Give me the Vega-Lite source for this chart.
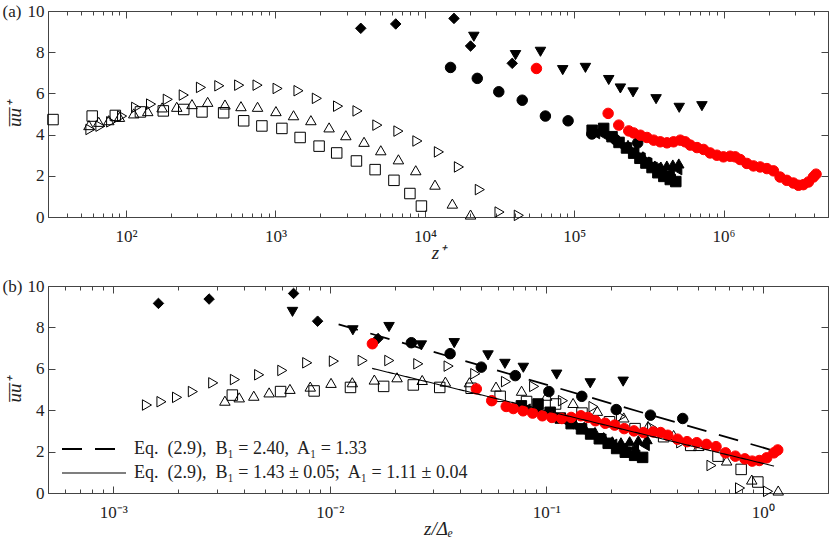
{
  "$schema": "https://vega.github.io/schema/vega-lite/v6.json",
  "autosize": {"type": "pad"},
  "padding": {"left": 2, "top": 2, "right": 0, "bottom": 0},
  "background": "white",
  "bounds": "flush",
  "spacing": 69,
  "datasets": {
    "pts": [
      {"s":"sq","za":32.4,"zb":0.00355,"u":4.73},
      {"s":"sq","za":59.3,"zb":0.00593,"u":4.90},
      {"s":"sq","za":84.7,"zb":0.00847,"u":4.93},
      {"s":"sq","za":124.7,"zb":0.01247,"u":5.10},
      {"s":"sq","za":177.4,"zb":0.01774,"u":5.15},
      {"s":"sq","za":243.2,"zb":0.02432,"u":5.22},
      {"s":"sq","za":322.1,"zb":0.03221,"u":5.10},
      {"s":"sq","za":449.8,"zb":0.04498,"u":5.06},
      {"s":"sq","za":612.4,"zb":0.06124,"u":4.67},
      {"s":"sq","za":811.0,"zb":0.0811,"u":4.42},
      {"s":"sq","za":1104,"zb":0.1104,"u":4.30},
      {"s":"sq","za":1462,"zb":0.1462,"u":3.86},
      {"s":"sq","za":1959,"zb":0.1959,"u":3.44},
      {"s":"sq","za":2570,"zb":0.257,"u":3.11},
      {"s":"sq","za":3483,"zb":0.3483,"u":2.72},
      {"s":"sq","za":4645,"zb":0.4645,"u":2.30},
      {"s":"sq","za":6209,"zb":0.6209,"u":1.78},
      {"s":"sq","za":7943,"zb":0.7943,"u":1.14},
      {"s":"sq","za":9484,"zb":0.9484,"u":0.53},
      {"s":"tu","za":56.4,"zb":0.00328,"u":4.46},
      {"s":"tu","za":65.6,"zb":0.00382,"u":4.62},
      {"s":"tu","za":76.6,"zb":0.00446,"u":4.70},
      {"s":"tu","za":90.2,"zb":0.00525,"u":4.86},
      {"s":"tu","za":112.5,"zb":0.00655,"u":5.03},
      {"s":"tu","za":139.6,"zb":0.00813,"u":5.14},
      {"s":"tu","za":174.2,"zb":0.01014,"u":5.32},
      {"s":"tu","za":218.3,"zb":0.01271,"u":5.35},
      {"s":"tu","za":276.1,"zb":0.01607,"u":5.48},
      {"s":"tu","za":351.6,"zb":0.02046,"u":5.59},
      {"s":"tu","za":459.2,"zb":0.02673,"u":5.46},
      {"s":"tu","za":587.5,"zb":0.0342,"u":5.38},
      {"s":"tu","za":758.6,"zb":0.04416,"u":5.35},
      {"s":"tu","za":1007,"zb":0.0586,"u":5.14},
      {"s":"tu","za":1321,"zb":0.0769,"u":4.94},
      {"s":"tu","za":1726,"zb":0.1005,"u":4.70},
      {"s":"tu","za":2286,"zb":0.1330,"u":4.35},
      {"s":"tu","za":2958,"zb":0.1722,"u":3.97},
      {"s":"tu","za":3917,"zb":0.2280,"u":3.65},
      {"s":"tu","za":5070,"zb":0.2951,"u":3.24},
      {"s":"tu","za":6653,"zb":0.3873,"u":2.80},
      {"s":"tu","za":8690,"zb":0.5058,"u":2.27},
      {"s":"tu","za":11695,"zb":0.6808,"u":1.57},
      {"s":"tu","za":15276,"zb":0.8892,"u":0.65},
      {"s":"tu","za":20230,"zb":1.178,"u":0.12},
      {"s":"tr","za":57.7,"zb":0.001432,"u":4.25},
      {"s":"tr","za":67.3,"zb":0.001671,"u":4.41},
      {"s":"tr","za":79.4,"zb":0.001972,"u":4.62},
      {"s":"tr","za":94.0,"zb":0.002333,"u":4.90},
      {"s":"tr","za":116.7,"zb":0.002897,"u":5.32},
      {"s":"tr","za":146.9,"zb":0.003648,"u":5.48},
      {"s":"tr","za":190.1,"zb":0.004721,"u":5.71},
      {"s":"tr","za":243.2,"zb":0.006039,"u":5.92},
      {"s":"tr","za":317.0,"zb":0.00787,"u":6.29},
      {"s":"tr","za":420.7,"zb":0.01045,"u":6.37},
      {"s":"tr","za":571.5,"zb":0.01419,"u":6.40},
      {"s":"tr","za":758.6,"zb":0.01884,"u":6.40},
      {"s":"tr","za":1033,"zb":0.02564,"u":6.24},
      {"s":"tr","za":1426,"zb":0.0354,"u":6.13},
      {"s":"tr","za":1892,"zb":0.04699,"u":5.76},
      {"s":"tr","za":2624,"zb":0.06516,"u":5.38},
      {"s":"tr","za":3540,"zb":0.0879,"u":5.15},
      {"s":"tr","za":4808,"zb":0.1194,"u":4.46},
      {"s":"tr","za":6653,"zb":0.1652,"u":4.17},
      {"s":"tr","za":8913,"zb":0.2213,"u":3.69},
      {"s":"tr","za":12417,"zb":0.3083,"u":3.16},
      {"s":"tr","za":16904,"zb":0.4198,"u":2.43},
      {"s":"tr","za":23335,"zb":0.5794,"u":1.33},
      {"s":"tr","za":31623,"zb":0.7852,"u":0.24},
      {"s":"tr","za":42560,"zb":1.057,"u":0.08},
      {"s":"di","za":3724,"zb":0.001618,"u":9.16},
      {"s":"di","za":6383,"zb":0.002773,"u":9.37},
      {"s":"di","za":15668,"zb":0.006808,"u":9.64},
      {"s":"di","za":20230,"zb":0.00879,"u":8.30},
      {"s":"di","za":38459,"zb":0.01671,"u":7.46},
      {"s":"td","za":21281,"zb":0.00673,"u":8.75},
      {"s":"td","za":40458,"zb":0.01279,"u":7.86},
      {"s":"td","za":59429,"zb":0.01879,"u":8.02},
      {"s":"td","za":83753,"zb":0.02649,"u":7.13},
      {"s":"td","za":118850,"zb":0.03758,"u":7.24},
      {"s":"td","za":170216,"zb":0.05383,"u":6.65},
      {"s":"td","za":203704,"zb":0.06442,"u":6.24},
      {"s":"td","za":247742,"zb":0.07834,"u":6.05},
      {"s":"td","za":353183,"zb":0.1117,"u":5.72},
      {"s":"td","za":504661,"zb":0.1596,"u":5.30},
      {"s":"td","za":716143,"zb":0.2265,"u":5.38},
      {"s":"ci","za":14859,"zb":0.02382,"u":7.26},
      {"s":"ci","za":22439,"zb":0.03597,"u":6.73},
      {"s":"ci","za":31261,"zb":0.05012,"u":6.08},
      {"s":"ci","za":44875,"zb":0.07194,"u":5.67},
      {"s":"ci","za":64121,"zb":0.1028,"u":4.90},
      {"s":"ci","za":90991,"zb":0.1459,"u":4.67},
      {"s":"ci","za":131220,"zb":0.2104,"u":4.03},
      {"s":"ci","za":188799,"zb":0.3027,"u":3.76},
      {"s":"ci","za":266073,"zb":0.4266,"u":3.60},
      {"s":"fl","za":138038,"zb":0.08035,"u":4.05},
      {"s":"fl","za":154882,"zb":0.09016,"u":4.00},
      {"s":"fl","za":173780,"zb":0.1012,"u":3.85},
      {"s":"fl","za":194984,"zb":0.1135,"u":3.60},
      {"s":"fl","za":218776,"zb":0.1274,"u":3.35},
      {"s":"fl","za":245471,"zb":0.1429,"u":3.10},
      {"s":"fl","za":275423,"zb":0.1603,"u":2.85},
      {"s":"fl","za":309030,"zb":0.1799,"u":2.60},
      {"s":"fl","za":346737,"zb":0.2018,"u":2.35},
      {"s":"fl","za":389045,"zb":0.2265,"u":2.20},
      {"s":"fl","za":436516,"zb":0.2541,"u":2.15},
      {"s":"fl","za":489779,"zb":0.2851,"u":2.30},
      {"s":"ft","za":229087,"zb":0.1334,"u":3.50},
      {"s":"ft","za":257040,"zb":0.1496,"u":3.20},
      {"s":"ft","za":288403,"zb":0.1679,"u":2.95},
      {"s":"ft","za":316228,"zb":0.1841,"u":2.70},
      {"s":"ft","za":346737,"zb":0.2018,"u":2.50},
      {"s":"ft","za":380189,"zb":0.2213,"u":2.45},
      {"s":"ft","za":416869,"zb":0.2427,"u":2.50},
      {"s":"ft","za":457088,"zb":0.2661,"u":2.55},
      {"s":"ft","za":501187,"zb":0.2917,"u":2.60},
      {"s":"fs","za":131826,"zb":0.07674,"u":4.21},
      {"s":"fs","za":157398,"zb":0.09162,"u":4.30},
      {"s":"fs","za":179061,"zb":0.1042,"u":3.90},
      {"s":"fs","za":199526,"zb":0.1161,"u":3.62},
      {"s":"fs","za":223872,"zb":0.1303,"u":3.35},
      {"s":"fs","za":250035,"zb":0.1455,"u":3.10},
      {"s":"fs","za":275423,"zb":0.1603,"u":2.85},
      {"s":"fs","za":301995,"zb":0.1758,"u":2.62},
      {"s":"fs","za":331894,"zb":0.1932,"u":2.40},
      {"s":"fs","za":363078,"zb":0.2113,"u":2.15},
      {"s":"fs","za":398107,"zb":0.2317,"u":1.97},
      {"s":"fs","za":439542,"zb":0.2559,"u":1.82},
      {"s":"fs","za":478630,"zb":0.2786,"u":1.72},
      {"s":"rd","za":55847,"zb":0.01574,"u":7.21},
      {"s":"rd","za":168655,"zb":0.04753,"u":5.03},
      {"s":"rd","za":198609,"zb":0.05598,"u":4.46},
      {"s":"rd","za":231739,"zb":0.06531,"u":4.18},
      {"s":"rd","za":250035,"zb":0.07047,"u":4.08},
      {"s":"rd","za":277332,"zb":0.07816,"u":3.97},
      {"s":"rd","za":306902,"zb":0.0865,"u":3.86},
      {"s":"rd","za":340408,"zb":0.09594,"u":3.73},
      {"s":"rd","za":376704,"zb":0.1062,"u":3.65},
      {"s":"rd","za":417830,"zb":0.1178,"u":3.60},
      {"s":"rd","za":462381,"zb":0.1303,"u":3.65},
      {"s":"rd","za":512861,"zb":0.1445,"u":3.73},
      {"s":"rd","za":553341,"zb":0.156,"u":3.65},
      {"s":"rd","za":598412,"zb":0.1687,"u":3.49},
      {"s":"rd","za":663743,"zb":0.1871,"u":3.37},
      {"s":"rd","za":734514,"zb":0.207,"u":3.28},
      {"s":"rd","za":812831,"zb":0.2291,"u":3.11},
      {"s":"rd","za":901571,"zb":0.2541,"u":3.00},
      {"s":"rd","za":997700,"zb":0.2812,"u":2.92},
      {"s":"rd","za":1106624,"zb":0.3119,"u":2.95},
      {"s":"rd","za":1196741,"zb":0.3373,"u":2.92},
      {"s":"rd","za":1291219,"zb":0.3639,"u":2.79},
      {"s":"rd","za":1432188,"zb":0.4036,"u":2.60},
      {"s":"rd","za":1584893,"zb":0.4467,"u":2.48},
      {"s":"rd","za":1757924,"zb":0.4955,"u":2.43},
      {"s":"rd","za":1949845,"zb":0.5495,"u":2.35},
      {"s":"rd","za":2157744,"zb":0.6081,"u":2.24},
      {"s":"rd","za":2387811,"zb":0.673,"u":1.94},
      {"s":"rd","za":2648500,"zb":0.7464,"u":1.78},
      {"s":"rd","za":2930893,"zb":0.826,"u":1.65},
      {"s":"rd","za":3169786,"zb":0.8933,"u":1.54},
      {"s":"rd","za":3419794,"zb":0.9638,"u":1.57},
      {"s":"rd","za":3698282,"zb":1.042,"u":1.70},
      {"s":"rd","za":3990249,"zb":1.125,"u":1.94},
      {"s":"rd","za":4159106,"zb":1.172,"u":2.08}
    ],
    "lines": [
      {"eq":"Eq.\u00a0 (2.9),\u00a0 B₁ = 2.40,\u00a0 A₁ = 1.33","x":0.01099,"u":8.15},
      {"eq":"Eq.\u00a0 (2.9),\u00a0 B₁ = 2.40,\u00a0 A₁ = 1.33","x":1.10,"u":2.07},
      {"eq":"Eq.\u00a0 (2.9),\u00a0 B₁ = 1.43 ± 0.05;\u00a0 A₁ = 1.11 ± 0.04","x":0.0157,"u":6.02},
      {"eq":"Eq.\u00a0 (2.9),\u00a0 B₁ = 1.43 ± 0.05;\u00a0 A₁ = 1.11 ± 0.04","x":1.127,"u":1.30}
    ]
  },
  "vconcat": [
    {
      "width": 780,
      "height": 206,
      "resolve": {"axis": {"x": "independent", "y": "independent"}},
      "layer": [
        {
          "data": {"name": "pts"},
          "mark": {"type": "point", "filled": true, "opacity": 1, "strokeWidth": 1},
          "encoding": {
            "x": {"field": "za", "type": "quantitative",
              "scale": {"type": "log", "domain": [30, 5000000], "nice": false},
              "axis": {"orient": "bottom", "title": "z⁺", "values": [30,40,50,60,70,80,90,100,200,300,400,500,600,700,800,900,1000,2000,3000,4000,5000,6000,7000,8000,9000,10000,20000,30000,40000,50000,60000,70000,80000,90000,100000,200000,300000,400000,500000,600000,700000,800000,900000,1000000,2000000,3000000,4000000,5000000],
                "labelExpr": "datum.value==100?'10²':datum.value==1000?'10³':datum.value==10000?'10⁴':datum.value==100000?'10⁵':datum.value==1000000?'10⁶':''",
                "tickSize": {"condition": {"test": "datum.value==100||datum.value==1000||datum.value==10000||datum.value==100000||datum.value==1000000", "value": -7}, "value": -4},
                "labelPadding": 18, "titlePadding": -4}},
            "y": {"field": "u", "type": "quantitative", "scale": {"domain": [0, 10], "nice": false},
              "axis": {"orient": "left", "title": "u̅u̅⁺", "values": [0,2,4,6,8,10], "tickSize": -7, "labelPadding": 11, "titlePadding": 3}},
            "shape": {"field": "s", "type": "nominal", "legend": null,
              "scale": {"domain": ["sq","tu","tr","di","td","ci","fl","ft","fs","rd"], "range": ["square","triangle-up","triangle-right","diamond","triangle-down","circle","triangle-left","triangle-up","square","circle"]}},
            "fill": {"field": "s", "type": "nominal", "legend": null,
              "scale": {"domain": ["sq","tu","tr","di","td","ci","fl","ft","fs","rd"], "range": ["transparent","transparent","transparent","black","black","black","black","black","black","red"]}},
            "stroke": {"field": "s", "type": "nominal", "legend": null,
              "scale": {"domain": ["sq","tu","tr","di","td","ci","fl","ft","fs","rd"], "range": ["black","black","black","black","black","black","black","black","black","red"]}},
            "size": {"field": "s", "type": "nominal", "legend": null,
              "scale": {"domain": ["sq","tu","tr","di","td","ci","fl","ft","fs","rd"], "range": [110,110,110,125,110,95,100,100,95,110]}}
          }
        },
        {
          "data": {"name": "pts"},
          "mark": {"type": "point", "opacity": 0},
          "encoding": {
            "x": {"field": "za", "type": "quantitative",
              "scale": {"type": "log", "domain": [30, 5000000], "nice": false},
              "axis": {"orient": "top", "title": "(a)", "titleX": -46, "titleY": 0, "titleAngle": 0, "titleAlign": "left", "titleBaseline": "middle", "titleFontStyle": "normal", "titleFontSize": 17, "labels": false, "values": [30,40,50,60,70,80,90,100,200,300,400,500,600,700,800,900,1000,2000,3000,4000,5000,6000,7000,8000,9000,10000,20000,30000,40000,50000,60000,70000,80000,90000,100000,200000,300000,400000,500000,600000,700000,800000,900000,1000000,2000000,3000000,4000000,5000000],
                "tickSize": {"condition": {"test": "datum.value==100||datum.value==1000||datum.value==10000||datum.value==100000||datum.value==1000000", "value": -7}, "value": -4}}},
            "y": {"field": "u", "type": "quantitative", "scale": {"domain": [0, 10], "nice": false},
              "axis": {"orient": "right", "title": null, "labels": false, "values": [0,2,4,6,8,10], "tickSize": -7}}
          }
        }
      ]
    },
    {
      "width": 780,
      "height": 207,
      "resolve": {"axis": {"x": "independent", "y": "independent"}},
      "layer": [
        {
          "data": {"name": "pts"},
          "mark": {"type": "point", "filled": true, "opacity": 1, "strokeWidth": 1},
          "encoding": {
            "x": {"field": "zb", "type": "quantitative",
              "scale": {"type": "log", "domain": [0.0005, 2], "nice": false},
              "axis": {"orient": "bottom", "title": "z/Δₑ", "values": [0.0005,0.0006,0.0007,0.0008,0.0009,0.001,0.002,0.003,0.004,0.005,0.006,0.007,0.008,0.009,0.01,0.02,0.03,0.04,0.05,0.06,0.07,0.08,0.09,0.1,0.2,0.3,0.4,0.5,0.6,0.7,0.8,0.9,1,2],
                "labelExpr": "datum.value==0.001?'10⁻³':datum.value==0.01?'10⁻²':datum.value==0.1?'10⁻¹':datum.value==1?'10⁰':''",
                "tickSize": {"condition": {"test": "datum.value==0.001||datum.value==0.01||datum.value==0.1||datum.value==1", "value": -7}, "value": -4},
                "labelPadding": 18, "titlePadding": -4}},
            "y": {"field": "u", "type": "quantitative", "scale": {"domain": [0, 10], "nice": false},
              "axis": {"orient": "left", "title": "u̅u̅⁺", "values": [0,2,4,6,8,10], "tickSize": -7, "labelPadding": 11, "titlePadding": 3}},
            "shape": {"field": "s", "type": "nominal", "legend": null,
              "scale": {"domain": ["sq","tu","tr","di","td","ci","fl","ft","fs","rd"], "range": ["square","triangle-up","triangle-right","diamond","triangle-down","circle","triangle-left","triangle-up","square","circle"]}},
            "fill": {"field": "s", "type": "nominal", "legend": null,
              "scale": {"domain": ["sq","tu","tr","di","td","ci","fl","ft","fs","rd"], "range": ["transparent","transparent","transparent","black","black","black","black","black","black","red"]}},
            "stroke": {"field": "s", "type": "nominal", "legend": null,
              "scale": {"domain": ["sq","tu","tr","di","td","ci","fl","ft","fs","rd"], "range": ["black","black","black","black","black","black","black","black","black","red"]}},
            "size": {"field": "s", "type": "nominal", "legend": null,
              "scale": {"domain": ["sq","tu","tr","di","td","ci","fl","ft","fs","rd"], "range": [110,110,110,125,110,95,100,100,95,110]}}
          }
        },
        {
          "data": {"name": "lines"},
          "mark": {"type": "line", "color": "black"},
          "encoding": {
            "x": {"field": "x", "type": "quantitative", "scale": {"type": "log", "domain": [0.0005, 2], "nice": false}, "axis": null},
            "y": {"field": "u", "type": "quantitative", "scale": {"domain": [0, 10], "nice": false}, "axis": null},
            "strokeDash": {"field": "eq", "type": "ordinal",
              "scale": {"domain": ["Eq.\u00a0 (2.9),\u00a0 B₁ = 2.40,\u00a0 A₁ = 1.33", "Eq.\u00a0 (2.9),\u00a0 B₁ = 1.43 ± 0.05;\u00a0 A₁ = 1.11 ± 0.04"], "range": [[20, 13], [1, 0]]},
              "legend": {"orient": "none", "legendX": 35, "legendY": 427, "title": null, "symbolType": "M-3.2,0H3.2", "symbolSize": 400, "symbolStrokeColor": "black", "symbolFillColor": "transparent", "labelFont": "Liberation Serif", "labelFontSize": 18, "labelColor": "#222", "labelLimit": 700, "labelOffset": 29, "padding": 0, "rowPadding": 4}},
            "strokeWidth": {"field": "eq", "type": "ordinal",
              "scale": {"domain": ["Eq.\u00a0 (2.9),\u00a0 B₁ = 2.40,\u00a0 A₁ = 1.33", "Eq.\u00a0 (2.9),\u00a0 B₁ = 1.43 ± 0.05;\u00a0 A₁ = 1.11 ± 0.04"], "range": [1.8, 1.1]},
              "legend": {"orient": "none", "legendX": 35, "legendY": 427, "title": null, "symbolType": "M-3.2,0H3.2", "symbolSize": 400, "symbolStrokeColor": "black", "symbolFillColor": "transparent", "labelFont": "Liberation Serif", "labelFontSize": 18, "labelColor": "#222", "labelLimit": 700, "labelOffset": 29, "padding": 0, "rowPadding": 4}}
          }
        },
        {
          "data": {"name": "pts"},
          "mark": {"type": "point", "opacity": 0},
          "encoding": {
            "x": {"field": "zb", "type": "quantitative",
              "scale": {"type": "log", "domain": [0.0005, 2], "nice": false},
              "axis": {"orient": "top", "title": "(b)", "titleX": -46, "titleY": 0, "titleAngle": 0, "titleAlign": "left", "titleBaseline": "middle", "titleFontStyle": "normal", "titleFontSize": 17, "labels": false, "values": [0.0005,0.0006,0.0007,0.0008,0.0009,0.001,0.002,0.003,0.004,0.005,0.006,0.007,0.008,0.009,0.01,0.02,0.03,0.04,0.05,0.06,0.07,0.08,0.09,0.1,0.2,0.3,0.4,0.5,0.6,0.7,0.8,0.9,1,2],
                "tickSize": {"condition": {"test": "datum.value==0.001||datum.value==0.01||datum.value==0.1||datum.value==1", "value": -7}, "value": -4}}},
            "y": {"field": "u", "type": "quantitative", "scale": {"domain": [0, 10], "nice": false},
              "axis": {"orient": "right", "title": null, "labels": false, "values": [0,2,4,6,8,10], "tickSize": -7}}
          }
        }
      ]
    }
  ],
  "config": {
    "font": "Liberation Serif",
    "view": {"stroke": null},
    "axis": {
      "grid": false,
      "labelFont": "Liberation Serif", "labelFontSize": 17, "labelColor": "#222",
      "titleFont": "Liberation Serif", "titleFontSize": 19, "titleFontStyle": "italic", "titleFontWeight": "normal", "titleColor": "#222",
      "domainColor": "#444", "tickColor": "#444", "labelOverlap": false, "labelFlush": false
    }
  }
}
